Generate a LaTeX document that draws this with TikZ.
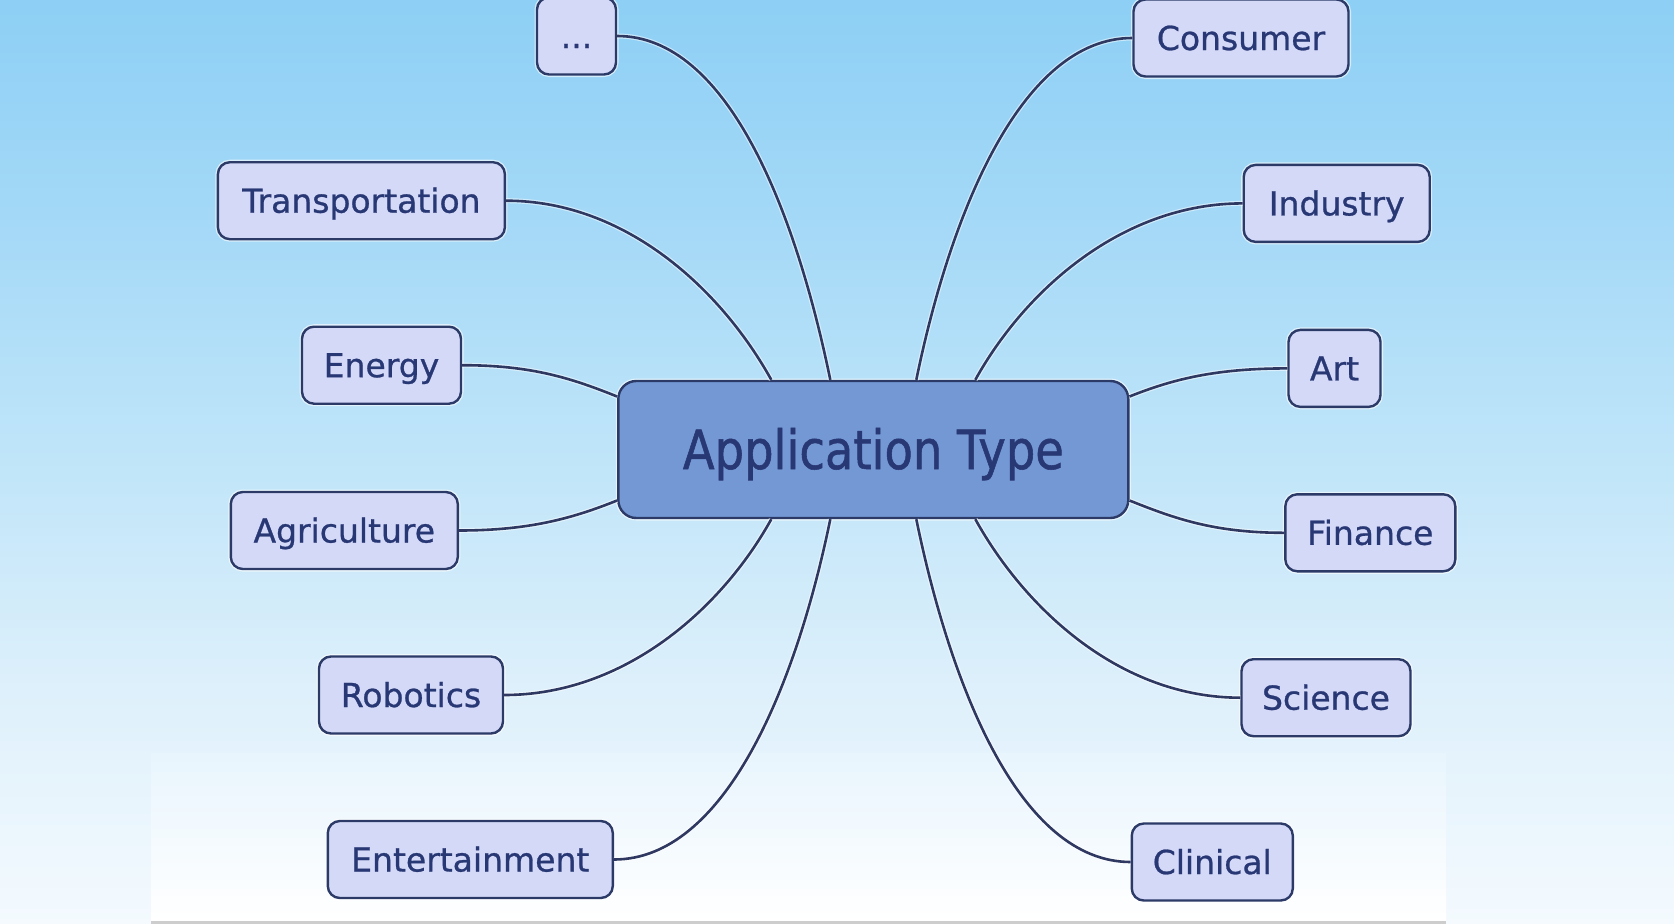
\documentclass[tikz,border=0pt]{standalone}
\usepackage{fontspec}
\setmainfont{DejaVu Sans}[FakeBold=0.8]
\newfontfamily\centralfont{DejaVu Sans}[FakeStretch=0.86,FakeBold=1]
\usetikzlibrary{calc}
\definecolor{bgtop}{RGB}{141,207,245}
\definecolor{bgq}{RGB}{165,217,247}
\definecolor{bgmid}{RGB}{192,229,249}
\definecolor{bgl}{RGB}{222,240,251}
\definecolor{bgbot}{RGB}{244,250,254}
\definecolor{innertop}{RGB}{232,245,253}
\definecolor{navy}{RGB}{44,58,104}
\definecolor{txtc}{RGB}{40,56,116}
\definecolor{leaffill}{RGB}{212,217,248}
\definecolor{centerfill}{RGB}{116,152,212}
\definecolor{linec}{RGB}{46,56,96}
\definecolor{grayline}{RGB}{205,205,205}
\pgfdeclareverticalshading{bgshade}{100bp}{color(0bp)=(bgbot); color(25bp)=(bgbot); color(37.5bp)=(bgl); color(50bp)=(bgmid); color(62.5bp)=(bgq); color(75bp)=(bgtop); color(100bp)=(bgtop)}
\tikzset{
  leaf/.style={draw=navy, fill=leaffill, rounded corners=12pt, line width=2.4pt,
    minimum height=77pt, text=txtc, font=\fontsize{33}{40}\selectfont,
    inner sep=0pt, text height=24pt, text depth=0pt, anchor=center,
    preaction={draw=white, draw opacity=0.6, line width=5pt}},
  hub/.style={draw=navy, fill=centerfill, rounded corners=18pt, line width=2.4pt,
    minimum width=510pt, minimum height=137pt, text=txtc,
    font=\centralfont\fontsize{54}{60}\selectfont,
    inner sep=0pt, text height=39pt, text depth=0pt, anchor=center,
    preaction={draw=white, draw opacity=0.6, line width=5pt}},
  link/.style={draw=linec, line width=2.6pt,
    preaction={draw=white, draw opacity=0.5, line width=5pt}}
}
\begin{document}
\begin{tikzpicture}[x=1pt,y=-1pt]
\useasboundingbox (0,0) rectangle (1674,924);
% background
\shade[shading=bgshade] (0,0) rectangle (1674,924);
\shade[top color=innertop, bottom color=white] (151,753) rectangle (1446,921);
\fill[grayline] (151,921) rectangle (1446,924);

% central node
\node[hub] (C) at (873.3,449.5) {Application Type};

% left leaves
\node[leaf, minimum width=79pt]  (dots)  at (576.5,36)    {...};
\node[leaf, minimum width=287pt] (trans) at (361.4,200.7) {Transportation};
\node[leaf, minimum width=159pt] (energ) at (381.5,365.2) {Energy};
\node[leaf, minimum width=227pt] (agri)  at (344.3,530.5) {Agriculture};
\node[leaf, minimum width=184pt] (robo)  at (411,695)     {Robotics};
\node[leaf, minimum width=285pt] (ent)   at (470.3,859.5) {Entertainment};
% right leaves
\node[leaf, minimum width=215pt] (cons)  at (1241,38)     {Consumer};
\node[leaf, minimum width=186pt] (indu)  at (1336.7,203.4){Industry};
\node[leaf, minimum width=92pt]  (art)   at (1334.5,368.4){Art};
\node[leaf, minimum width=170pt] (fin)   at (1370.3,532.8){Finance};
\node[leaf, minimum width=169pt] (sci)   at (1326,697.7)  {Science};
\node[leaf, minimum width=161pt] (clin)  at (1212.3,862)  {Clinical};

% attachment points on the hub
\coordinate (tA) at ([xshift=-102pt]C.north);
\coordinate (tB) at ([xshift=-43pt]C.north);
\coordinate (tC) at ([xshift=43pt]C.north);
\coordinate (tD) at ([xshift=102pt]C.north);
\coordinate (bA) at ([xshift=-102pt]C.south);
\coordinate (bB) at ([xshift=-43pt]C.south);
\coordinate (bC) at ([xshift=43pt]C.south);
\coordinate (bD) at ([xshift=102pt]C.south);
\coordinate (lA) at ([yshift=53pt]C.west);
\coordinate (lB) at ([yshift=-51pt]C.west);
\coordinate (rA) at ([yshift=53pt]C.east);
\coordinate (rB) at ([yshift=-51pt]C.east);

\path[link] (dots.east)  .. controls +(110,0)  and +(-35,-170) .. (tB);
\path[link] (trans.east) .. controls +(120,0)  and +(-50,-90)  .. (tA);
\path[link] (energ.east) .. controls +(70,0)   and +(-45,-18)  .. (lA);
\path[link] (agri.east)  .. controls +(70,0)   and +(-45,18)   .. (lB);
\path[link] (robo.east)  .. controls +(120,0)  and +(-50,90)   .. (bA);
\path[link] (ent.east)   .. controls +(110,0)  and +(-35,170)  .. (bB);
\path[link] (cons.west)  .. controls +(-110,0) and +(35,-170)  .. (tC);
\path[link] (indu.west)  .. controls +(-120,0) and +(50,-90)   .. (tD);
\path[link] (art.west)   .. controls +(-70,0)  and +(45,-18)   .. (rA);
\path[link] (fin.west)   .. controls +(-70,0)  and +(45,18)    .. (rB);
\path[link] (sci.west)   .. controls +(-120,0) and +(50,90)    .. (bD);
\path[link] (clin.west)  .. controls +(-110,0) and +(35,170)   .. (bC);
\end{tikzpicture}
\end{document}
